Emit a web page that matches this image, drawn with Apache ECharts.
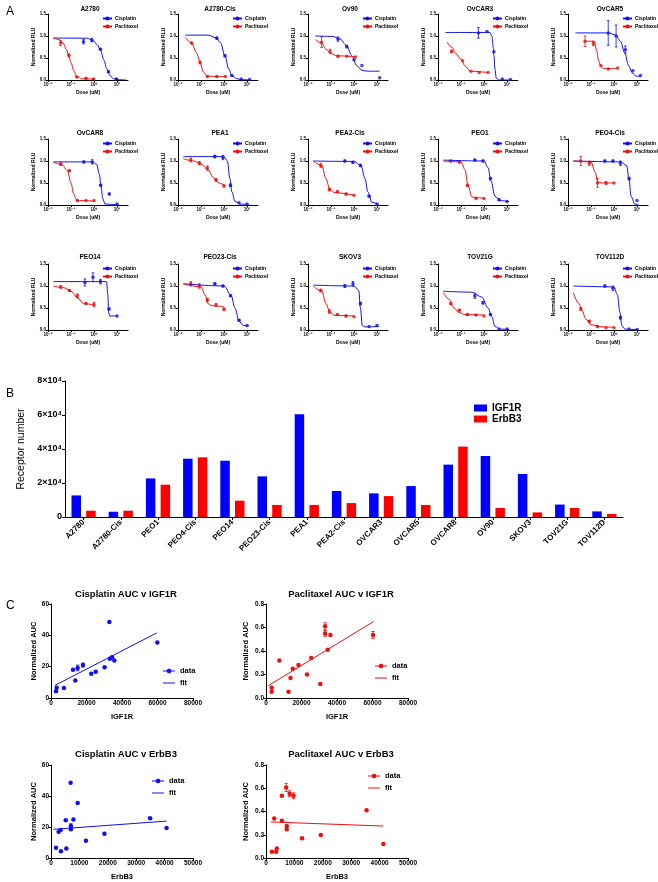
<!DOCTYPE html>
<html><head><meta charset="utf-8">
<script src="https://cdn.jsdelivr.net/npm/echarts@6/dist/echarts.min.js"></script>
<style>html,body{margin:0;padding:0;background:#fff}#c{width:658px;height:882px}</style>
</head><body><div id="c"></div><script>
// ---------- Panel A: dose-response data ----------
const panelNames = ['A2780','A2780-Cis','Ov90','OvCAR3','OvCAR5','OvCAR8','PEA1','PEA2-Cis','PEO1','PEO4-Cis','PEO14','PEO23-Cis','SKOV3','TOV21G','TOV112D'];
// [dose (uM), mean, error]
const cisplatinPoints = [
  [[0.35,0.87,0.05],[0.8,0.91,0.04],[1.9,0.70,0.02],[4.2,0.19,0.02],[9.4,0.02,0.01]],
  [[0.49,0.95,0.03],[1.1,0.55,0.02],[2.2,0.10,0.01],[5.6,0.02,0],[13,0.01,0]],
  [[0.2,0.93,0.05],[0.48,0.76,0.03],[1.0,0.46,0],[2.2,0.33,0],[13,0.05,0]],
  [[0.57,1.07,0.12],[1.35,1.10,0],[2.7,0.64,0],[6.2,0.02,0],[14,0.01,0]],
  [[0.56,1.07,0.28],[1.23,1.0,0.25],[3.1,0.69,0.08],[6.6,0.21,0],[14,0.1,0]],
  [[0.36,0.98,0.02],[0.84,0.98,0.05],[1.95,0.45,0.02],[4.6,0.25,0.02],[10,0.02,0]],
  [[0.4,1.1,0.03],[0.9,1.08,0.05],[1.9,0.45,0.03],[4.5,0.05,0],[10,0.02,0]],
  [[0.4,1.0,0.02],[0.9,0.97,0.02],[1.9,0.9,0.03],[4.5,0.2,0.02],[10,0.02,0]],
  [[0.4,1.02,0.02],[0.9,1.0,0.02],[1.9,0.6,0.03],[4.5,0.12,0.02],[10,0.08,0]],
  [[0.4,1.0,0.02],[0.9,1.0,0.02],[1.9,0.95,0.05],[4.5,0.6,0.03],[10,0.1,0]],
  [[0.4,1.08,0.08],[0.9,1.2,0.1],[1.9,1.1,0.05],[4.5,0.48,0.02],[10,0.32,0]],
  [[0.4,1.05,0.02],[0.9,1.0,0.02],[1.9,0.78,0.02],[4.5,0.22,0.02],[10,0.1,0]],
  [[0.4,1.0,0.03],[0.9,1.05,0.05],[1.9,0.6,0.03],[4.5,0.08,0],[10,0.1,0]],
  [[0.4,0.77,0.05],[0.9,0.62,0.03],[1.9,0.35,0.02],[4.5,0.02,0],[10,0.02,0]],
  [[0.4,1.0,0.02],[0.9,0.95,0.05],[1.9,0.28,0.03],[4.5,0.02,0],[10,0.01,0]]
];
const paclitaxelPoints = [
  [[0.035,0.84,0.06],[0.081,0.56,0.03],[0.18,0.07,0.01],[0.45,0.04,0.01],[0.97,0.02,0.01]],
  [[0.039,0.84,0.02],[0.091,0.40,0.03],[0.19,0.08,0.01],[0.49,0.08,0.01],[1.15,0.08,0]],
  [[0.039,0.86,0.12],[0.091,0.65,0.05],[0.2,0.54,0.02],[0.49,0.54,0],[1.15,0.52,0]],
  [[0.039,0.65,0.03],[0.118,0.44,0],[0.27,0.2,0],[0.62,0.17,0],[1.5,0.17,0]],
  [[0.055,0.88,0.12],[0.126,0.83,0.05],[0.27,0.33,0],[0.57,0.25,0],[1.45,0.27,0]],
  [[0.036,0.93,0.03],[0.085,0.78,0.02],[0.19,0.1,0.01],[0.45,0.1,0],[1,0.1,0]],
  [[0.036,1.02,0.04],[0.085,0.95,0.04],[0.19,0.84,0.05],[0.45,0.57,0.03],[1,0.43,0.02]],
  [[0.036,0.9,0.05],[0.085,0.35,0.03],[0.19,0.3,0.02],[0.45,0.25,0.02],[1,0.22,0]],
  [[0.036,1.0,0.02],[0.085,0.98,0.02],[0.19,0.45,0.02],[0.45,0.15,0.01],[1,0.15,0]],
  [[0.036,1.0,0.1],[0.085,0.95,0.05],[0.19,0.5,0.1],[0.45,0.5,0.03],[1,0.5,0]],
  [[0.036,0.98,0.03],[0.085,0.9,0.02],[0.19,0.78,0.04],[0.45,0.6,0.02],[1,0.58,0.05]],
  [[0.036,1.05,0.05],[0.085,1.0,0.05],[0.19,0.68,0.04],[0.45,0.57,0.03],[1,0.47,0.03]],
  [[0.036,0.9,0.03],[0.085,0.42,0.04],[0.19,0.35,0.02],[0.45,0.32,0.02],[1,0.3,0]],
  [[0.036,0.6,0.02],[0.085,0.45,0.02],[0.19,0.35,0.02],[0.45,0.34,0.01],[1,0.32,0]],
  [[0.036,0.48,0.03],[0.085,0.2,0.02],[0.19,0.08,0.01],[0.45,0.05,0],[1,0.05,0]]
];
// fitted curves, points [dose, value]
const cisplatinCurves = [
  [[0.017,0.955],[0.5,0.95],[0.9,0.9],[1.4,0.8],[1.9,0.68],[2.7,0.45],[3.6,0.25],[5,0.1],[7,0.03],[12,0.005],[25,0]],
  [[0.021,1.02],[0.2,1.02],[0.45,0.96],[0.7,0.85],[1.1,0.55],[1.6,0.25],[2.2,0.1],[3.5,0.03],[5.6,0.01],[13,0]],
  [[0.021,1.0],[0.12,0.99],[0.25,0.93],[0.48,0.78],[0.8,0.55],[1.3,0.33],[2.2,0.22],[4,0.2],[13,0.2]],
  [[0.021,1.08],[1.8,1.08],[2.2,1.0],[2.5,0.75],[2.7,0.55],[3.0,0.25],[3.4,0.04],[4.5,0.0],[14,0.0]],
  [[0.021,1.07],[0.6,1.07],[1.2,1.02],[1.9,0.88],[2.9,0.62],[4.3,0.33],[6,0.17],[9,0.09],[14,0.07]],
  [[0.017,0.98],[0.8,0.98],[1.3,0.93],[1.7,0.7],[2,0.45],[2.4,0.15],[3,0.02],[12,0]],
  [[0.017,1.1],[1,1.1],[1.4,1.0],[1.8,0.6],[2.2,0.3],[3,0.08],[5,0.02],[12,0.01]],
  [[0.017,1.0],[1,0.99],[2,0.9],[3,0.6],[4,0.3],[6,0.06],[12,0.01]],
  [[0.017,1.02],[1,1.0],[1.5,0.85],[2,0.55],[3,0.2],[5,0.1],[12,0.08]],
  [[0.017,1.0],[2,0.98],[3.5,0.9],[4.5,0.6],[5.5,0.2],[8,0.02],[12,0.0]],
  [[0.017,1.1],[3.5,1.1],[4,0.8],[4.3,0.4],[4.8,0.32],[10,0.32]],
  [[0.017,1.05],[1,1.0],[2,0.8],[3,0.5],[4.5,0.2],[7,0.1],[12,0.09]],
  [[0.017,1.02],[1,1.0],[1.6,0.9],[1.9,0.5],[2.3,0.1],[3,0.07],[12,0.08]],
  [[0.017,0.88],[0.3,0.86],[0.8,0.75],[1.5,0.5],[2.2,0.3],[3,0.08],[5,0.02],[12,0.01]],
  [[0.017,1.0],[1,0.98],[1.4,0.8],[1.8,0.4],[2.2,0.1],[3,0.02],[12,0]]
];
const paclitaxelCurves = [
  [[0.017,0.955],[0.03,0.92],[0.045,0.84],[0.065,0.68],[0.08,0.55],[0.1,0.4],[0.13,0.22],[0.18,0.08],[0.3,0.025],[0.97,0.02]],
  [[0.021,0.97],[0.039,0.84],[0.064,0.62],[0.091,0.40],[0.126,0.18],[0.19,0.09],[0.49,0.08],[1.15,0.08]],
  [[0.021,0.92],[0.039,0.83],[0.06,0.7],[0.1,0.6],[0.18,0.55],[1.15,0.53]],
  [[0.025,0.86],[0.039,0.75],[0.06,0.6],[0.1,0.47],[0.15,0.32],[0.25,0.2],[1.5,0.17]],
  [[0.055,0.88],[0.14,0.88],[0.18,0.65],[0.21,0.45],[0.27,0.3],[0.35,0.26],[1.45,0.26]],
  [[0.017,0.97],[0.04,0.92],[0.07,0.78],[0.1,0.5],[0.13,0.25],[0.18,0.1],[1,0.09]],
  [[0.017,1.05],[0.05,1.0],[0.1,0.93],[0.2,0.8],[0.35,0.62],[0.6,0.5],[1,0.45]],
  [[0.017,1.0],[0.04,0.9],[0.06,0.6],[0.09,0.35],[0.15,0.28],[1,0.22]],
  [[0.017,1.0],[0.1,0.98],[0.15,0.8],[0.2,0.45],[0.3,0.18],[1,0.15]],
  [[0.017,1.0],[0.1,0.98],[0.15,0.75],[0.2,0.52],[0.3,0.5],[1,0.5]],
  [[0.017,1.0],[0.05,0.96],[0.1,0.88],[0.2,0.72],[0.35,0.6],[1,0.57]],
  [[0.017,1.05],[0.1,0.98],[0.15,0.8],[0.2,0.6],[0.3,0.55],[1,0.53]],
  [[0.017,1.0],[0.04,0.88],[0.06,0.6],[0.09,0.4],[0.15,0.33],[1,0.32]],
  [[0.017,0.85],[0.03,0.7],[0.05,0.5],[0.08,0.4],[0.15,0.35],[1,0.34]],
  [[0.017,0.85],[0.03,0.6],[0.04,0.45],[0.06,0.25],[0.1,0.12],[0.3,0.07],[1,0.06]]
];
const doseAxisMin = 0.01, doseAxisMax = 30;
const rluTicks = [0, 0.5, 1.0, 1.5];

// ---------- Panel B: receptor numbers ----------
const cellLines = ['A2780','A2780-Cis','PEO1','PEO4-Cis','PEO14','PEO23-Cis','PEA1','PEA2-Cis','OVCAR3','OVCAR5','OVCAR8','OV90','SKOV3','TOV21G','TOV112D'];
const igf1rCounts = [12700,3100,22700,34300,33100,23900,60400,15300,13900,18200,30800,35900,25300,7300,3300];
const erbb3Counts = [3700,3700,19000,35100,9600,7100,7100,8200,12300,7100,41400,5300,2700,5300,1800];

// ---------- Panel C: AUC correlations [receptor, AUC, error] ----------
const cisAucVsIgf1r = [[2800,4.3,0],[3200,6.6,0],[7300,6.4,0],[12400,18.1,0],[13700,11.1,0],[15000,19.2,1.8],[18000,21,1.3],[22700,15.5,0],[25200,16.8,0],[30200,19.6,0],[32900,48.5,0],[33200,25.1,0],[34400,26,0],[35700,24,0],[59900,35.5,0]];
const cisFitIgf1r = [[2300,8.1],[59500,41.5]];
const pacAucVsIgf1r = [[3200,0.088,0],[3200,0.054,0],[7500,0.32,0],[12700,0.054,0],[13800,0.17,0],[15100,0.25,0],[18300,0.28,0],[23100,0.2,0],[25500,0.34,0],[30600,0.12,0],[33300,0.61,0.03],[33300,0.55,0.025],[34800,0.41,0],[36300,0.536,0],[60300,0.536,0.03]];
const pacFitIgf1r = [[1300,0.105],[60500,0.65]];
const cisAucVsErbb3 = [[1760,6.6,0],[2700,17,0],[3400,18.1,0],[3500,4.3,0],[5200,24.3,0],[5400,6.2,0],[6900,48.5,0],[7000,20.6,1.5],[7000,18.5,0],[7900,24.9,0],[9400,35.5,0],[12300,11.1,0],[18800,15.7,0],[34900,25.7,0],[40700,19.4,0]];
const cisFitErbb3 = [[800,18.5],[40700,23.8]];
const pacAucVsErbb3 = [[2100,0.054,0],[2900,0.34,0],[3600,0.054,0],[3800,0.082,0],[5600,0.536,0],[5600,0.32,0],[7100,0.607,0.035],[7300,0.275,0],[7300,0.247,0],[8300,0.553,0.025],[9700,0.536,0.025],[12700,0.17,0],[19300,0.198,0],[35400,0.41,0],[41300,0.12,0]];
const pacFitErbb3 = [[1700,0.31],[41300,0.275]];

// ---------- styling ----------
const FONT = '"Liberation Sans", Arial, "DejaVu Sans", sans-serif';
const BLUE = '#1010ee', RED = '#ee1010';
const BARBLUE = '#0000ff', BARRED = '#ff0000';
const SUP = {'-':'⁻','0':'⁰','1':'¹','2':'²','3':'³','4':'⁴','5':'⁵'};
function sup(n){ return String(n).split('').map(ch => SUP[ch]).join(''); }
const LINE_ICON = 'path://M0,0H12V1H0Z';
const LINE_DOT_ICON = 'path://M0,4.5H3.6A2.5,2.5 0 0 1 8.4,4.5H12V5.5H8.4A2.5,2.5 0 0 1 3.6,5.5H0Z';

function errorBarRender(params, api){
  const x = api.value(0), lo = api.value(1), hi = api.value(2);
  const p1 = api.coord([x, lo]), p2 = api.coord([x, hi]);
  const w = api.value(3) || 1.5;
  const style = {stroke: api.visual('color'), lineWidth: 0.8};
  return {type:'group', children:[
    {type:'line', shape:{x1:p1[0],y1:p1[1],x2:p2[0],y2:p2[1]}, style},
    {type:'line', shape:{x1:p1[0]-w,y1:p1[1],x2:p1[0]+w,y2:p1[1]}, style},
    {type:'line', shape:{x1:p2[0]-w,y1:p2[1],x2:p2[0]+w,y2:p2[1]}, style}
  ]};
}
function errData(pts, cap){ return pts.filter(p => p[2] > 0).map(p => [p[0], p[1]-p[2], p[1]+p[2], cap]); }

function axisBase(fs){
  return {
    axisLine:{show:true, onZero:false, lineStyle:{color:'#000', width:1}},
    axisTick:{show:true, length:2, lineStyle:{color:'#000', width:1}},
    splitLine:{show:false},
    axisLabel:{color:'#000', fontSize:fs, fontWeight:'bold', fontFamily:FONT, margin:2},
    nameTextStyle:{color:'#000', fontWeight:'bold', fontFamily:FONT}
  };
}

const option = {animation:false, backgroundColor:'#fff', title:[], legend:[], grid:[], xAxis:[], yAxis:[], series:[]};

// panel letters
[['A',1,1],['B',1,383],['C',1,595]].forEach(([t,l,tp]) => option.title.push({text:t, left:l, top:tp, textStyle:{fontSize:12, fontWeight:'normal', color:'#000', fontFamily:FONT}}));

// ---------- Panel A grids ----------
panelNames.forEach((name, i) => {
  const r = Math.floor(i/5), c = i % 5;
  const left = 48 + 130*c, top = 14 + 125*r;
  const gi = option.grid.length;
  option.grid.push({left:left, top:top, width:80, height:66});
  option.title.push({text:name, left:85 + 130*c, top:1 + 124*r, textAlign:'center',
    textStyle:{fontSize:6.5, fontWeight:'bold', color:'#000', fontFamily:FONT}});
  const xa = axisBase(4.5);
  Object.assign(xa, {type:'log', gridIndex:gi, min:doseAxisMin, max:doseAxisMax, logBase:10,
    name:'Dose (uM)', nameLocation:'middle', nameGap:10});
  xa.nameTextStyle.fontSize = 5;
  xa.axisLabel.formatter = v => { const e = Math.log10(v); const k = Math.round(e); return Math.abs(e-k) < 1e-6 ? '10' + sup(k) : ''; };
  xa.axisLabel.showMaxLabel = false;
  option.xAxis.push(xa);
  const ya = axisBase(4.5);
  Object.assign(ya, {type:'value', gridIndex:gi, min:rluTicks[0], max:rluTicks[rluTicks.length-1], interval:rluTicks[1]-rluTicks[0],
    name:'Normalized RLU', nameLocation:'middle', nameGap:11});
  ya.nameTextStyle.fontSize = 5;
  ya.axisLabel.formatter = v => v.toFixed(1);
  option.yAxis.push(ya);
  option.legend.push({left:97 + 130*c, top:11 + 125*r, orient:'vertical', itemWidth:9, itemHeight:5, itemGap:3,
    data:['Cisplatin','Paclitaxel'], textStyle:{fontSize:5, fontWeight:'bold', color:'#000', fontFamily:FONT, padding:[0,0,0,-2]}});
  const mk = (nm, col, curve, pts) => {
    option.series.push({type:'line', name:nm, xAxisIndex:gi, yAxisIndex:gi, data:curve, smooth:0.35, smoothMonotone:'x',
      symbol:'circle', symbolSize:3, showSymbol:false, lineStyle:{color:col, width:1}, itemStyle:{color:col}, silent:true});
    option.series.push({type:'scatter', name:nm, xAxisIndex:gi, yAxisIndex:gi, data:pts.map(p => [p[0], p[1]]),
      symbol:'circle', symbolSize:3.5, itemStyle:{color:col}, silent:true});
    option.series.push({type:'custom', name:nm + ' error', xAxisIndex:gi, yAxisIndex:gi, data:errData(pts, 1.3),
      renderItem:errorBarRender, encode:{x:0, y:[1,2]}, itemStyle:{color:col}, silent:true});
  };
  mk('Cisplatin', BLUE, cisplatinCurves[i], cisplatinPoints[i]);
  mk('Paclitaxel', RED, paclitaxelCurves[i], paclitaxelPoints[i]);
});

// ---------- Panel B ----------
{
  const gi = option.grid.length;
  option.grid.push({left:65, top:381, width:558, height:136});
  const xa = axisBase(8);
  Object.assign(xa, {type:'category', gridIndex:gi, data:cellLines, boundaryGap:true});
  xa.axisTick = {show:true, alignWithLabel:true, length:3, lineStyle:{color:'#000'}};
  xa.axisLabel = Object.assign(xa.axisLabel, {rotate:45, interval:0, margin:4, fontSize:8});
  option.xAxis.push(xa);
  const ya = axisBase(9);
  Object.assign(ya, {type:'value', gridIndex:gi, min:0, max:80000, interval:20000,
    name:'Receptor number', nameLocation:'middle', nameGap:31});
  ya.axisTick.length = 3;
  ya.axisLabel.margin = 3;
  ya.axisLabel.formatter = v => v === 0 ? '0' : (v/10000) + '×10' + sup(4);
  ya.nameTextStyle = {fontSize:10.5, fontWeight:'normal', color:'#000', fontFamily:FONT};
  option.yAxis.push(ya);
  option.series.push({type:'bar', name:'IGF1R', xAxisIndex:gi, yAxisIndex:gi, data:igf1rCounts, barWidth:9.5, barGap:'55%',
    itemStyle:{color:BARBLUE}});
  option.series.push({type:'bar', name:'ErbB3', xAxisIndex:gi, yAxisIndex:gi, data:erbb3Counts, barWidth:9.5, barGap:'55%',
    itemStyle:{color:BARRED}});
  option.legend.push({left:469, top:398, orient:'vertical', itemWidth:13, itemHeight:7, itemGap:1, icon:'rect',
    data:['IGF1R','ErbB3'], textStyle:{fontSize:10, fontWeight:'bold', color:'#000', fontFamily:FONT}});
}

// ---------- Panel C ----------
const scatterPanels = [
  {title:'Cisplatin AUC v IGF1R', left:51, top:604, xmax:80000, xint:20000, ymax:60, yint:20, dec:0, xname:'IGF1R', pts:cisAucVsIgf1r, fit:cisFitIgf1r, col:BLUE, tx:121, ty:584, lx:158, ly:662},
  {title:'Paclitaxel AUC v IGF1R', left:266, top:604, xmax:80000, xint:20000, ymax:0.8, yint:0.2, dec:1, xname:'IGF1R', pts:pacAucVsIgf1r, fit:pacFitIgf1r, col:RED, tx:336, ty:584, lx:370, ly:657},
  {title:'Cisplatin AUC v ErbB3', left:51, top:765, xmax:50000, xint:10000, ymax:60, yint:20, dec:0, xname:'ErbB3', pts:cisAucVsErbb3, fit:cisFitErbb3, col:BLUE, tx:121, ty:744, lx:147, ly:772},
  {title:'Paclitaxel AUC v ErbB3', left:266, top:765, xmax:50000, xint:10000, ymax:0.8, yint:0.2, dec:1, xname:'ErbB3', pts:pacAucVsErbb3, fit:pacFitErbb3, col:RED, tx:336, ty:744, lx:363, ly:767}
];
scatterPanels.forEach((sp, k) => {
  const gi = option.grid.length;
  option.grid.push({left:sp.left, top:sp.top, width:142, height:94});
  option.title.push({text:sp.title, left:sp.tx, top:sp.ty, textAlign:'center',
    textStyle:{fontSize:9.5, fontWeight:'bold', color:'#000', fontFamily:FONT}});
  const xa = axisBase(6.5);
  Object.assign(xa, {type:'value', gridIndex:gi, min:0, max:sp.xmax, interval:sp.xint, name:sp.xname, nameLocation:'middle', nameGap:15});
  xa.axisTick.length = 3;
  xa.axisLabel.formatter = v => String(v);
  xa.nameTextStyle.fontSize = 7.5;
  option.xAxis.push(xa);
  const ya = axisBase(6.5);
  Object.assign(ya, {type:'value', gridIndex:gi, min:0, max:sp.ymax, interval:sp.yint, name:'Normalized AUC', nameLocation:'middle', nameGap: sp.dec ? 16 : 12});
  ya.axisTick.length = 3;
  ya.axisLabel.formatter = v => v.toFixed(sp.dec);
  ya.nameTextStyle.fontSize = 7.5;
  option.yAxis.push(ya);
  option.series.push({type:'line', name:'data', xAxisIndex:gi, yAxisIndex:gi, data:sp.pts.map(p => [p[0], p[1]]),
    symbol:'circle', symbolSize:4.5, showSymbol:true, lineStyle:{width:0, opacity:0}, itemStyle:{color:sp.col}, silent:true});
  option.series.push({type:'line', name:'fit', xAxisIndex:gi, yAxisIndex:gi, data:sp.fit, symbol:'none',
    lineStyle:{color:sp.col, width:1}, itemStyle:{color:sp.col}, silent:true});
  option.series.push({type:'custom', name:'data error', xAxisIndex:gi, yAxisIndex:gi, data:errData(sp.pts, 1.8),
    renderItem:errorBarRender, encode:{x:0, y:[1,2]}, itemStyle:{color:sp.col}, silent:true});
  option.legend.push({left:sp.lx, top:sp.ly, orient:'vertical', itemWidth:12, itemHeight:8, itemGap:4,
    data:[{name:'data', icon:LINE_DOT_ICON, itemStyle:{color:sp.col}},
          {name:'fit', icon:LINE_ICON, itemStyle:{color:sp.col}}],
    textStyle:{fontSize:7.5, fontWeight:'bold', color:'#000', fontFamily:FONT}});
});

const chart = echarts.init(document.getElementById('c'), null, {renderer:'canvas'});
chart.setOption(option);
</script></body></html>
